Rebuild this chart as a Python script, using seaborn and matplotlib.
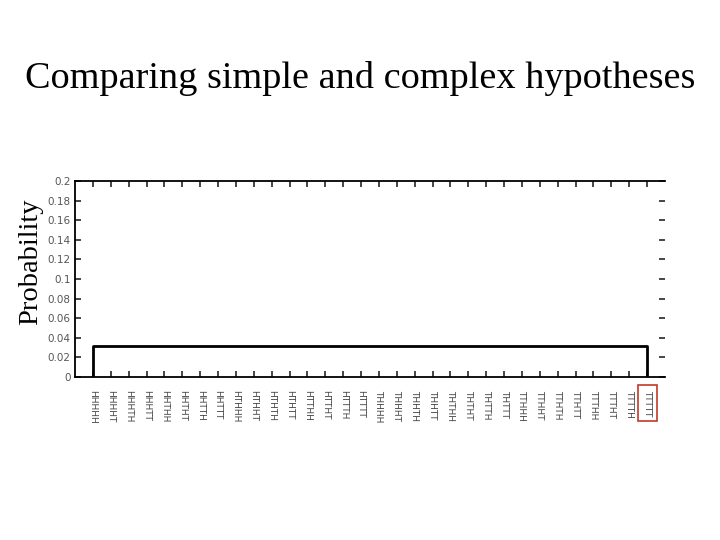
import matplotlib
matplotlib.use("Agg")
import matplotlib.pyplot as plt
import seaborn as sns
import pandas as pd

# ---- data ----
sequences = [
    "HHHHH", "HHHHT", "HHHTH", "HHHTT", "HHTHH", "HHTHT", "HHTTH", "HHTTT",
    "HTHHH", "HTHHT", "HTHTH", "HTHTT", "HTTHH", "HTTHT", "HTTTH", "HTTTT",
    "THHHH", "THHHT", "THHTH", "THHTT", "THTHH", "THTHT", "THTTH", "THTTT",
    "TTHHH", "TTHHT", "TTHTH", "TTHTT", "TTTHH", "TTTHT", "TTTTH", "TTTTT",
]
probabilities = [
    0.03125, 0.03125, 0.03125, 0.03125, 0.03125, 0.03125, 0.03125, 0.03125,
    0.03125, 0.03125, 0.03125, 0.03125, 0.03125, 0.03125, 0.03125, 0.03125,
    0.03125, 0.03125, 0.03125, 0.03125, 0.03125, 0.03125, 0.03125, 0.03125,
    0.03125, 0.03125, 0.03125, 0.03125, 0.03125, 0.03125, 0.03125, 0.03125,
]
ytick_values = [0, 0.02, 0.04, 0.06, 0.08, 0.1, 0.12, 0.14, 0.16, 0.18, 0.2]
ytick_labels = ["0", "0.02", "0.04", "0.06", "0.08", "0.1", "0.12", "0.14", "0.16", "0.18", "0.2"]
title = "Comparing simple and complex hypotheses"
ylabel = "Probability"
highlight = len(sequences) - 1

# ---- figure ----
sns.set_style("white")
plt.rcParams["font.family"] = ["DejaVu Sans"]

fig = plt.figure(figsize=(7.2, 5.4), dpi=100)
ax = fig.add_axes([75 / 720, 1 - 377 / 540, 590 / 720, 196 / 540])

positions = list(range(1, len(sequences) + 1))
# outline of the distribution: rise at first hypothesis, fall at last one
step_x = [positions[0]] + positions + [positions[-1]]
step_y = [0] + probabilities + [0]
df = pd.DataFrame({"x": step_x, "y": step_y})
sns.lineplot(data=df, x="x", y="y", sort=False, estimator=None,
             color="black", linewidth=2, ax=ax)

ax.set_xlim(0, len(sequences) + 1)
ax.set_ylim(0, 0.2)
ax.set_xlabel("")
ax.set_ylabel("")

ax.set_yticks(ytick_values)
ax.set_yticklabels(ytick_labels)
ax.set_xticks(positions)
ax.set_xticklabels(sequences, rotation=270)

for s in ["left", "top", "bottom"]:
    ax.spines[s].set_visible(True)
    ax.spines[s].set_color("black")
    ax.spines[s].set_linewidth(1.3)
ax.spines["right"].set_visible(False)

ax.tick_params(axis="y", which="both", labelsize=7.5, labelcolor="#555555", pad=3,
               width=1.2)
ax.tick_params(axis="y", right=True, direction="inout", length=7)
ax.tick_params(axis="y", left=True, direction="in", length=4)
ax.tick_params(axis="x", which="both", direction="in", length=4, width=1.2,
               bottom=True, top=True, labelsize=6.5, labelcolor="#444444", pad=9)

lab = ax.get_xticklabels()[highlight]
lab.set_bbox(dict(facecolor="none", edgecolor="#c0392b", linewidth=1.2,
                  boxstyle="square,pad=0.55"))

fig.text(0.5, 1 - 88 / 540, title, ha="center", va="baseline",
         fontsize=27.5, family="Liberation Serif", color="black")
fig.text(31 / 720, 1 - 262 / 540, ylabel, ha="center", va="center",
         rotation=90, fontsize=20.5, family="Liberation Serif", color="black")

fig.savefig("out.png", dpi=100)
